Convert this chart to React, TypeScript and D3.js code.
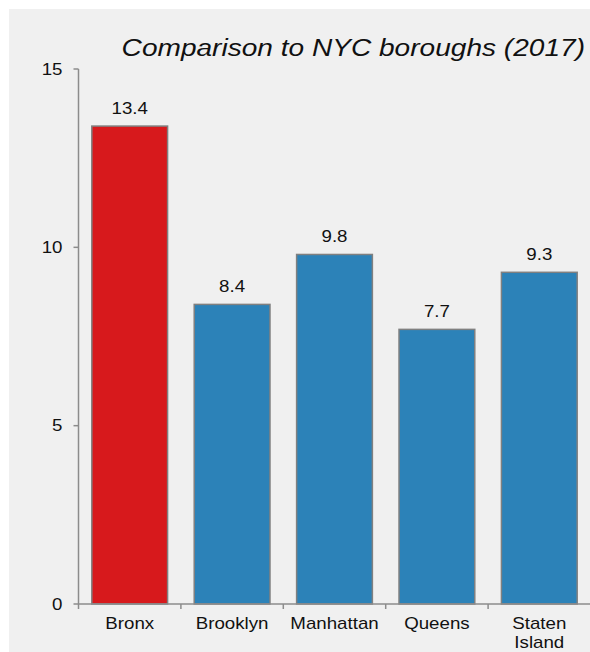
import React from "react";
import * as d3 from "d3";

const categories = ["Bronx", "Brooklyn", "Manhattan", "Queens", "Staten Island"];
const values = [13.4, 8.4, 9.8, 7.7, 9.3];
const barColors = ["#d7191c", "#2c82b8", "#2c82b8", "#2c82b8", "#2c82b8"];
const yTicks = [0, 5, 10, 15];
const title = "Comparison to NYC boroughs (2017)";

const W = 590;
const H = 652;
const left = 78.5;
const right = 590.5;
const top = 69;
const bottom = 604;
const font = "'Liberation Sans', Arial, sans-serif";
const SX = 1.17;

function T(props: {
  x: number;
  y: number;
  size: number;
  anchor?: string;
  italic?: boolean;
  dy?: string;
  children: React.ReactNode;
}) {
  return (
    <text
      transform={`translate(${props.x},${props.y}) scale(${SX},1)`}
      dy={props.dy}
      textAnchor={props.anchor || "middle"}
      fontFamily={font}
      fontSize={props.size}
      fontStyle={props.italic ? "italic" : "normal"}
      fill="#111"
    >
      {props.children}
    </text>
  );
}

export default function App() {
  const x = d3.scaleBand<string>().domain(categories).range([left, right]).paddingInner(0.26).paddingOuter(0.13);
  const xb = d3.scaleBand<string>().domain(categories).range([left, right]);
  const y = d3.scaleLinear().domain([0, 15]).range([bottom, top]);
  const axisColor = "#8c8c8c";
  return (
    <svg width={W} height={H} style={{ position: "absolute", left: 0, top: 0, background: "#fff" }}>
      <rect x={9} y={9} width={W - 9} height={H - 9} fill="#f0f0f0" />
      <T x={585} y={56} size={24} anchor="end" italic>
        {title}
      </T>
      {categories.map((c, i) => (
        <g key={c}>
          <rect
            x={x(c)!}
            y={y(values[i])}
            width={x.bandwidth()}
            height={y(0) - y(values[i])}
            fill={barColors[i]}
            stroke="#808080"
            strokeWidth={1.5}
          />
          <T x={x(c)! + x.bandwidth() / 2} y={y(values[i]) - 12.5} size={16}>
            {values[i].toFixed(1)}
          </T>
        </g>
      ))}
      {/* y axis */}
      <line x1={left} x2={left} y1={y(15)} y2={bottom} stroke={axisColor} strokeWidth={1.5} />
      {yTicks.map((t) => (
        <g key={t}>
          <line x1={left - 5} x2={left} y1={y(t)} y2={y(t)} stroke={axisColor} strokeWidth={1.5} />
          <T x={62.5} y={y(t)} dy="0.36em" size={16} anchor="end">
            {t}
          </T>
        </g>
      ))}
      {/* x axis */}
      <line x1={left} x2={right} y1={bottom} y2={bottom} stroke={axisColor} strokeWidth={1.5} />
      {categories.map((c) => (
        <line key={"t" + c} x1={xb(c)!} x2={xb(c)!} y1={bottom} y2={bottom + 5} stroke={axisColor} strokeWidth={1.5} />
      ))}
      {categories.map((c) => {
        const words = c.split(" ");
        const cx = xb(c)! + xb.bandwidth() / 2;
        return (
          <g key={"l" + c}>
            {words.map((w, j) => (
              <T key={j} x={cx} y={629 + j * 19} size={16}>
                {w}
              </T>
            ))}
          </g>
        );
      })}
    </svg>
  );
}
